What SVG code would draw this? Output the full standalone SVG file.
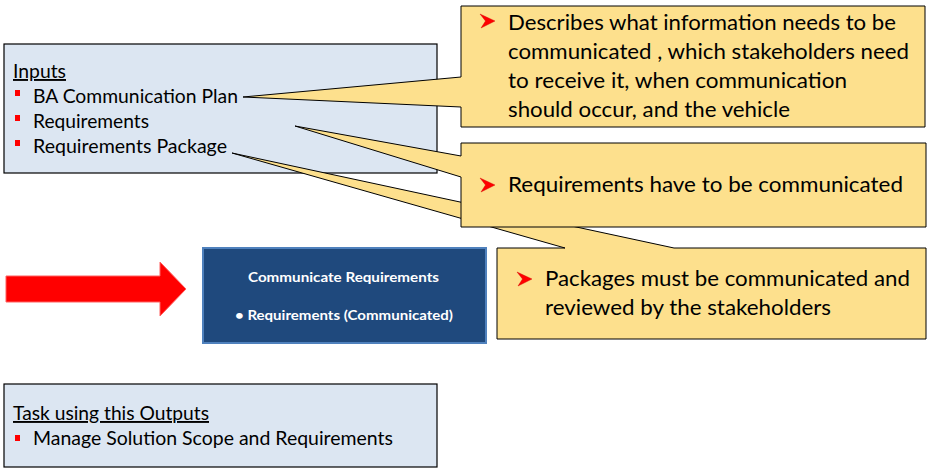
<svg xmlns="http://www.w3.org/2000/svg" width="932" height="469" viewBox="0 0 932 469">
<style>
.box{fill:#DCE6F2;stroke:#000;stroke-width:1.2}
.call{fill:#FDE08D;stroke:#000;stroke-width:1}
.t{font-family:Lato,"Liberation Sans",sans-serif;font-size:19px;fill:#000}
.ct{font-family:Lato,"Liberation Sans",sans-serif;font-size:21px;fill:#000}
.w{font-family:Lato,"Liberation Sans",sans-serif;font-size:14px;font-weight:bold;fill:#fff}
.b{fill:#FF0000}
</style>
<defs>
<polygon id="arr" points="0,0 15,7 1,14 5.5,7" fill="#FF0000" stroke="#D00000" stroke-width="0.4"/>
</defs>
<rect width="932" height="469" fill="#fff"/>
<g id="inputs">
<rect class="box" x="4" y="44" width="433" height="129"/>
<text class="t" x="13" y="78" text-decoration="underline" textLength="53" lengthAdjust="spacingAndGlyphs">Inputs</text>
<rect class="b" x="15" y="90" width="5" height="6"/>
<text class="t" x="33" y="103" textLength="205" lengthAdjust="spacingAndGlyphs">BA Communication Plan</text>
<rect class="b" x="15" y="115" width="5" height="6"/>
<text class="t" x="33" y="128" textLength="116" lengthAdjust="spacingAndGlyphs">Requirements</text>
<rect class="b" x="15" y="140" width="5" height="6"/>
<text class="t" x="33" y="153" textLength="194" lengthAdjust="spacingAndGlyphs">Requirements  Package</text>
</g>
<g id="callout-packages">
<path class="call" d="M497,248 H565 L232,153 L674,248 H926 V339 H497 Z"/>
<use href="#arr" x="517" y="272"/>
<text class="ct" x="545" y="286" textLength="365" lengthAdjust="spacingAndGlyphs">Packages must be communicated and</text>
<text class="ct" x="545" y="315" textLength="286" lengthAdjust="spacingAndGlyphs">reviewed by the stakeholders</text>
</g>
<g id="callout-requirements">
<path class="call" d="M461,143 H926 V227 H461 V177 L295,126 L461,156 Z"/>
<use href="#arr" x="480" y="178"/>
<text class="ct" x="508" y="192" textLength="395" lengthAdjust="spacingAndGlyphs">Requirements have to be communicated</text>
</g>
<g id="callout-plan">
<path class="call" d="M461,6 H925 V127 H461 V107 L243,97 L461,77 Z"/>
<use href="#arr" x="480" y="14"/>
<text class="ct" x="508" y="30" textLength="388" lengthAdjust="spacingAndGlyphs">Describes what information needs to be</text>
<text class="ct" x="508" y="59" textLength="401" lengthAdjust="spacingAndGlyphs">communicated , which stakeholders need</text>
<text class="ct" x="508" y="88" textLength="339" lengthAdjust="spacingAndGlyphs">to receive it, when communication</text>
<text class="ct" x="508" y="117" textLength="282" lengthAdjust="spacingAndGlyphs">should occur, and the vehicle</text>
</g>
<g id="arrow">
<polygon points="6,276 160,276 160,262 186,289 160,316 160,302 6,302" fill="#FF0000" stroke="#FF6060" stroke-width="1"/>
</g>
<g id="task">
<rect x="203" y="248" width="283" height="95" fill="#1F497D" stroke="#4F81BD" stroke-width="2"/>
<text class="w" x="248" y="282" textLength="191" lengthAdjust="spacingAndGlyphs">Communicate Requirements</text>
<text class="w" x="235" y="320" textLength="218" lengthAdjust="spacingAndGlyphs">• Requirements (Communicated)</text>
</g>
<g id="outputs">
<rect class="box" x="4" y="384" width="433" height="83"/>
<text class="t" x="13" y="420" text-decoration="underline" textLength="196" lengthAdjust="spacingAndGlyphs">Task using this Outputs</text>
<rect class="b" x="15" y="435" width="5" height="6"/>
<text class="t" x="33" y="445" textLength="360" lengthAdjust="spacingAndGlyphs">Manage Solution Scope and Requirements</text>
</g>
</svg>
